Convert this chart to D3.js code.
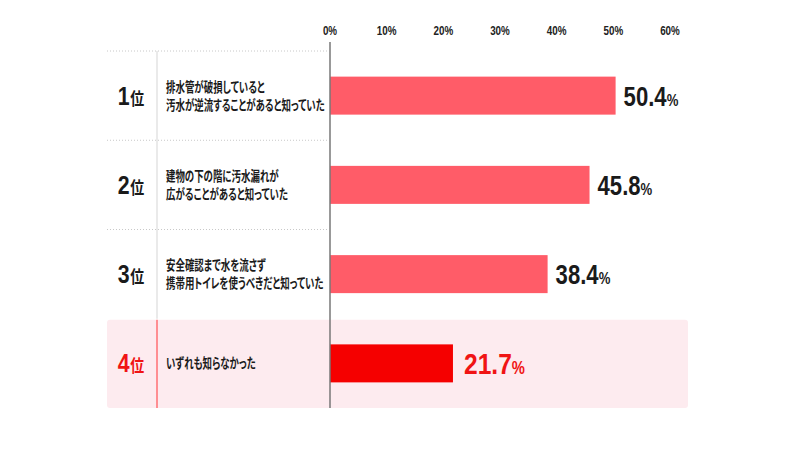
<!DOCTYPE html>
<html>
<head>
<meta charset="utf-8">
<script src="https://cdn.jsdelivr.net/npm/d3@7"></script>
<style>
  body { margin: 0; background: #fff; }
  text { font-family: "Liberation Sans", Arial, sans-serif; }
  .jp { font-family: "Noto Sans CJK JP", sans-serif; font-weight: bold; font-feature-settings: "palt"; }
</style>
</head>
<body>
<div id="chart"></div>
<script>
// data
var ranks = ["1", "2", "3", "4"];
var labels = [
  ["排水管が破損していると", "汚水が逆流することがあると知っていた"],
  ["建物の下の階に汚水漏れが", "広がることがあると知っていた"],
  ["安全確認まで水を流さず", "携帯用トイレを使うべきだと知っていた"],
  ["いずれも知らなかった"]
];
var values = [50.4, 45.8, 38.4, 21.7];
var ticks = [0, 10, 20, 30, 40, 50, 60];

var width = 800;
var height = 450;
var svg = d3
  .select("#chart")
  .append("svg")
  .attr("width", width)
  .attr("height", height);

var xScale = d3.scaleLinear().domain([0, 60]).range([330, 670]);
var yScale = d3.scaleBand().domain(ranks).range([51, 408]).padding(0);
var barH = 38;
var lastRank = ranks[ranks.length - 1];
var narrow = 0.82; // squeeze for the condensed look

// highlight box for last row
svg
  .append("rect")
  .attr("x", 107)
  .attr("y", yScale(lastRank) + 1)
  .attr("width", 581)
  .attr("height", yScale.bandwidth() - 1)
  .attr("rx", 3)
  .attr("fill", "#fdebef");

// dotted separators
svg
  .selectAll(".sep")
  .data(ranks.slice(0, 3))
  .enter()
  .append("line")
  .attr("x1", 107)
  .attr("x2", 327)
  .attr("y1", function(d) { return yScale(d); })
  .attr("y2", function(d) { return yScale(d); })
  .attr("stroke", "#c8c8c8")
  .attr("stroke-width", 1)
  .attr("stroke-dasharray", "1,2");

// vertical divider
svg
  .append("line")
  .attr("x1", 157)
  .attr("x2", 157)
  .attr("y1", yScale(ranks[0]))
  .attr("y2", yScale(lastRank))
  .attr("stroke", "#dcdcdc")
  .attr("stroke-width", 1.2);
svg
  .append("line")
  .attr("x1", 157)
  .attr("x2", 157)
  .attr("y1", yScale(lastRank) + 1)
  .attr("y2", yScale(lastRank) + yScale.bandwidth())
  .attr("stroke", "#ff6f73")
  .attr("stroke-width", 1.5);

// top tick labels
svg
  .selectAll(".tick")
  .data(ticks)
  .enter()
  .append("text")
  .attr("transform", function(d) { return "translate(" + xScale(d) + ",35) scale(" + narrow + ",1)"; })
  .attr("text-anchor", "middle")
  .attr("font-size", 12)
  .attr("font-weight", "bold")
  .attr("fill", "#222")
  .text(function(d) { return d + "%"; });

// bars
svg
  .selectAll(".bar")
  .data(values)
  .enter()
  .append("rect")
  .attr("x", xScale(0))
  .attr("y", function(d, i) { return yScale(ranks[i]) + (yScale.bandwidth() - barH) / 2; })
  .attr("width", function(d) { return xScale(d) - xScale(0); })
  .attr("height", barH)
  .attr("fill", function(d, i) { return ranks[i] == lastRank ? "#f50000" : "#ff5c68"; });

// axis line
svg
  .append("line")
  .attr("x1", xScale(0))
  .attr("x2", xScale(0))
  .attr("y1", 42)
  .attr("y2", yScale(lastRank) + yScale.bandwidth())
  .attr("stroke", "#777")
  .attr("stroke-width", 1.5);

// value labels (last one is a bit larger)
var vals = svg
  .selectAll(".val")
  .data(values)
  .enter()
  .append("text")
  .attr("transform", function(d, i) {
    var last = ranks[i] == lastRank;
    return "translate(" + (xScale(d) + (last ? 11 : 8)) + "," + (yScale(ranks[i]) + yScale.bandwidth() / 2 + (last ? 11 : 10)) + ") scale(" + narrow + ",1)";
  })
  .attr("font-weight", "bold")
  .attr("fill", function(d, i) { return ranks[i] == lastRank ? "#f01414" : "#1a1a1a"; });
vals
  .append("tspan")
  .attr("font-size", function(d, i) { return ranks[i] == lastRank ? 30 : 27; })
  .text(function(d) { return d.toFixed(1); });
vals
  .append("tspan")
  .attr("font-size", function(d, i) { return ranks[i] == lastRank ? 18 : 16; })
  .text("%");

// rank labels
var rk = svg
  .selectAll(".rank")
  .data(ranks)
  .enter()
  .append("text")
  .attr("transform", function(d) {
    return "translate(131," + (yScale(d) + yScale.bandwidth() / 2 + 9) + ") scale(" + narrow + ",1)";
  })
  .attr("text-anchor", "middle")
  .attr("font-weight", "bold")
  .attr("fill", function(d) { return d == lastRank ? "#f01414" : "#1a1a1a"; });
rk.append("tspan").attr("font-size", 26).text(function(d) { return d; });
rk.append("tspan").attr("class", "jp").attr("font-size", 17).attr("dx", 1).text("位");

// row labels
labels.forEach(function(lines, i) {
  var cy = yScale(ranks[i]) + yScale.bandwidth() / 2;
  lines.forEach(function(line, j) {
    var off = lines.length == 1 ? 0 : (j == 0 ? -9 : 9);
    svg
      .append("text")
      .attr("class", "jp")
      .attr("transform", "translate(166," + (cy + off + 5) + ") scale(0.7,1)")
      .attr("font-size", 13.5)
      .attr("fill", "#1a1a1a")
      .text(line);
  });
});
</script>
</body>
</html>
